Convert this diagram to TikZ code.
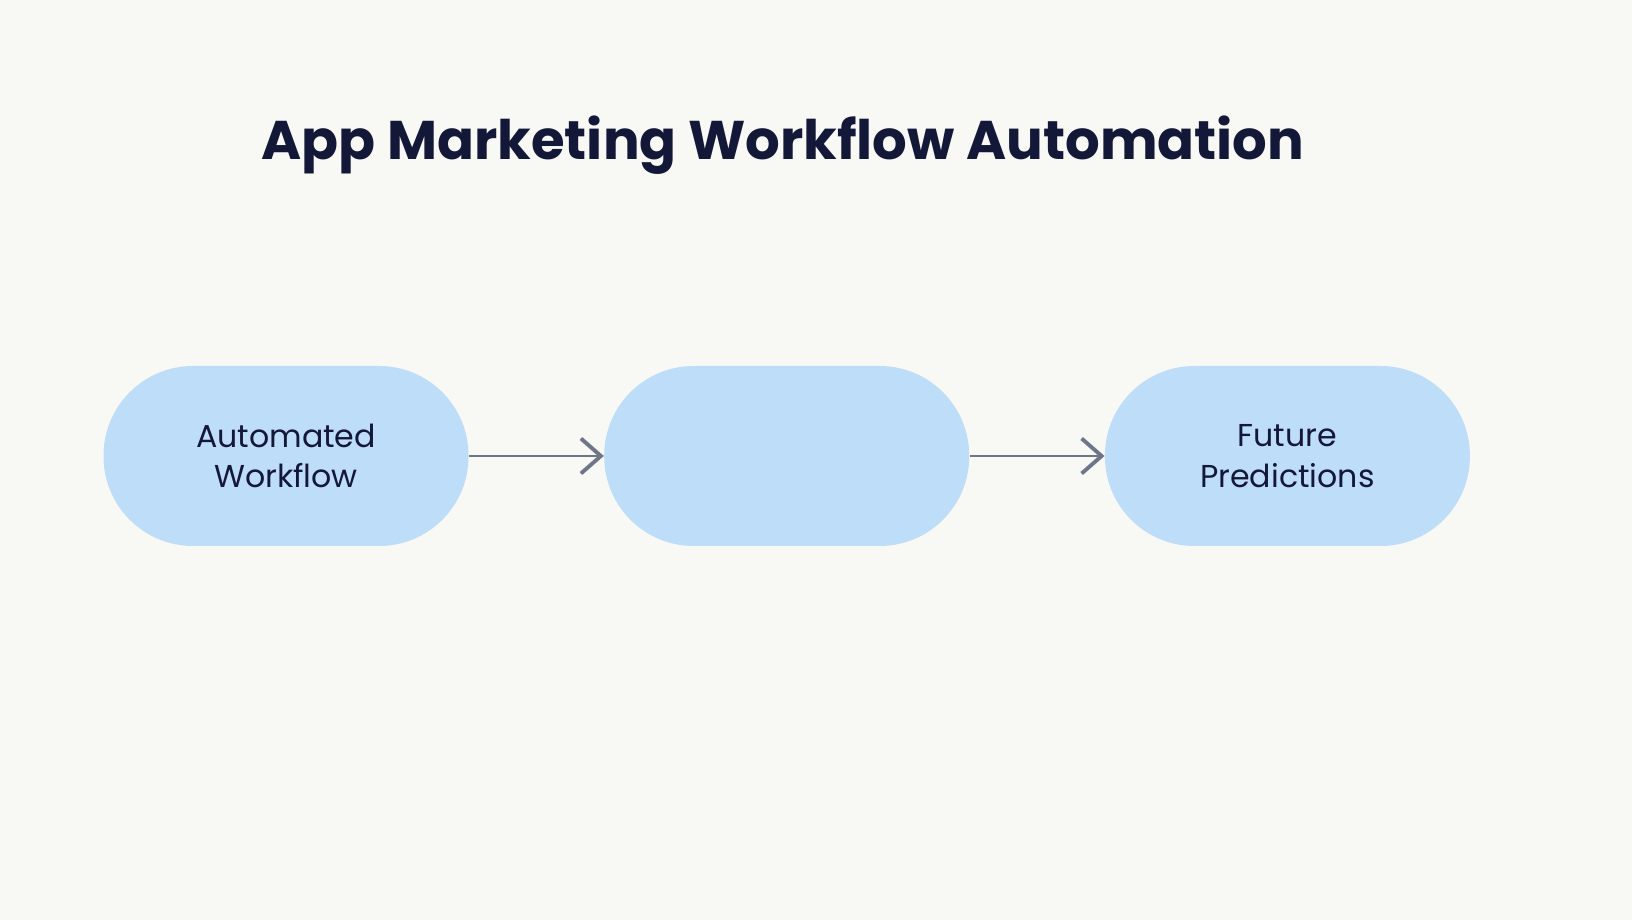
\documentclass[tikz,border=0pt]{standalone}
\usepackage{fontspec}
\setmainfont{Poppins}
\usepackage{tikz}
\usetikzlibrary{arrows.meta,positioning}
\definecolor{bgcol}{HTML}{F8F8F5}
\definecolor{boxcol}{HTML}{BEDDF8}
\definecolor{inkcol}{HTML}{141838}
\definecolor{linecol}{HTML}{6E7688}
\tikzstyle{stepbox} = [rectangle, rounded corners=1.79cm, minimum width=7.3cm, minimum height=3.6cm, text width=6cm, align=center, fill=boxcol, text=inkcol, font=\fontsize{18}{23}\selectfont, inner sep=0cm]
\tikzstyle{arrow} = [line width=1.5pt, draw=linecol, -{Straight Barb[length=0.4cm, width=0.7cm, line width=2.2pt]}]

\begin{document}
\begin{tikzpicture}[node distance = 2.7cm]
                    \fill[bgcol] (0,0) rectangle (32.64,-18.4);
                    \useasboundingbox (0,0) rectangle (32.64,-18.4);
                    \node (Title) [text=inkcol, font=\fontsize{31}{37}\selectfont\bfseries] at (15.66,-2.9) {App Marketing Workflow Automation};
                    \node (AW) [stepbox] at (5.72,-9.12) {Automated\\Workflow};
                    \node (Mid) [stepbox, right=of AW] {};
                    \node (FP) [stepbox, right=of Mid] {Future\\Predictions};
                    \draw [arrow] (AW) -- (Mid);
                    \draw [arrow] (Mid) -- (FP);
                \end{tikzpicture}
\end{document}
